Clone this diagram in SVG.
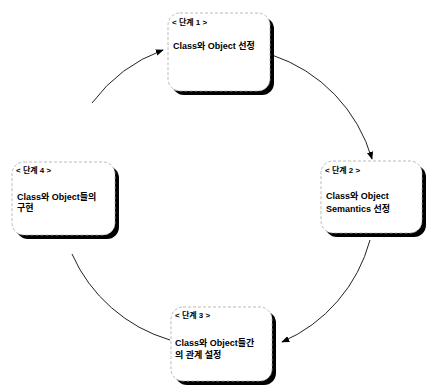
<svg xmlns="http://www.w3.org/2000/svg" width="428" height="388" viewBox="0 0 428 388">
<style>
.sh{fill:#000}
.bx{fill:#fff;stroke:#aaa;stroke-width:0.8;stroke-dasharray:3 2}
.t{font-family:"Liberation Sans","Noto Sans CJK KR",sans-serif;font-weight:bold;font-size:9px;fill:#000}
.h{font-size:8px}
.c{fill:none;stroke:#222;stroke-width:1}
</style>
<defs>
<marker id="ah" viewBox="0 0 10 10" refX="9" refY="5" markerWidth="8" markerHeight="8" markerUnits="userSpaceOnUse" orient="auto">
<path d="M0,1 L10,5 L0,9 Z" fill="#000"/>
</marker>
</defs>
<g id="connectors">
<path class="c" d="M92 103 A155 155 0 0 1 163 50" marker-end="url(#ah)"/>
<path class="c" d="M272 55 A155 155 0 0 1 372 159" marker-end="url(#ah)"/>
<path class="c" d="M370 240 A155 155 0 0 1 282 342" marker-end="url(#ah)"/>
<path class="c" d="M170 340 A155 155 0 0 1 72 254" stroke="#444" stroke-width="0.8"/>
</g>
<g id="node1">
<rect class="sh" x="172" y="17" width="102" height="78" rx="12"/>
<rect class="bx" x="168" y="13" width="102" height="78" rx="12"/>
<text class="t h" x="172" y="25">&lt; 단계 1 &gt;</text>
<text class="t" x="173" y="49">Class와 Object 선정</text>
</g>
<g id="node2">
<rect class="sh" x="325" y="165" width="101" height="72" rx="12"/>
<rect class="bx" x="321" y="161" width="101" height="72" rx="12"/>
<text class="t h" x="325" y="173">&lt; 단계 2 &gt;</text>
<text class="t" x="326" y="199">Class와 Object</text>
<text class="t" x="326" y="212">Semantics 선정</text>
</g>
<g id="node3">
<rect class="sh" x="175" y="311" width="101" height="74" rx="12"/>
<rect class="bx" x="171" y="307" width="101" height="74" rx="12"/>
<text class="t h" x="175" y="318">&lt; 단계 3 &gt;</text>
<text class="t" x="175" y="346">Class와 Object들간</text>
<text class="t" x="175" y="358">의 관계 설정</text>
</g>
<g id="node4">
<rect class="sh" x="16" y="166" width="103" height="73" rx="12"/>
<rect class="bx" x="12" y="162" width="103" height="73" rx="12"/>
<text class="t h" x="16" y="173">&lt; 단계 4 &gt;</text>
<text class="t" x="17" y="200">Class와 Object들의</text>
<text class="t" x="17" y="211">구현</text>
</g>
</svg>
